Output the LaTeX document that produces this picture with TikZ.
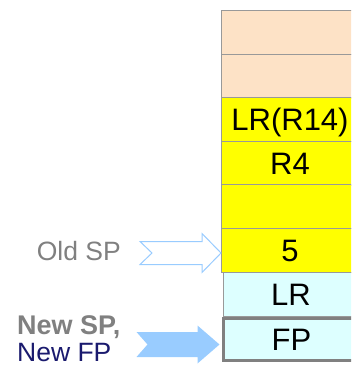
\documentclass[tikz,border=0pt]{standalone}
\usepackage{fontspec}
\setmainfont{Liberation Sans}
\usetikzlibrary{calc}
\definecolor{peach}{HTML}{FDE2C6}
\definecolor{ylw}{HTML}{FFFF00}
\definecolor{lcyan}{HTML}{DDFFFF}
\definecolor{cellgray}{HTML}{999999}
\definecolor{fpgray}{HTML}{808080}
\definecolor{arrblue}{HTML}{99CCFF}
\definecolor{txtgray}{HTML}{808080}
\definecolor{navy}{HTML}{1A1A6E}
\begin{document}
\begin{tikzpicture}[x=1pt,y=-1pt,
  cell/.style={draw=cellgray, line width=1pt, minimum width=137pt, minimum height=44pt,
    inner sep=0pt, text height=22pt, text depth=0pt, anchor=north west,
    font=\fontsize{31}{36}\selectfont},
  lbl/.style={inner sep=0pt, font=\fontsize{26.5}{30}\selectfont},
  oldarrow/.style={draw=arrblue, fill=white, line width=1pt, line join=miter},
  newarrow/.style={fill=arrblue, draw=none}]
\useasboundingbox (0,0) rectangle (351,366);
\clip (0,0) rectangle (351,366);
\node[cell, fill=peach] (c1) at (221,10) {};
\node[cell, fill=peach] (c2) at (221,54) {};
\node[cell, fill=ylw] (c3) at (221,97) {LR(R14)};
\node[cell, fill=ylw] (c4) at (221,141) {R4};
\node[cell, fill=ylw] (c5) at (221,184) {};
\node[cell, fill=ylw] (c6) at (221,228) {5};
\node[cell, fill=lcyan, minimum width=135pt] (c7) at (223,272) {LR};
\node[cell, fill=lcyan, draw=fpgray, line width=3pt, minimum height=42pt, minimum width=136pt] (c8) at (222,317) {FP};
% Old SP arrow
\coordinate (t1) at ($(c6.west)+(0,2.5)$);
\draw[oldarrow] (t1) -- ++(-19,-19.5) -- ++(0,8) -- ++(-62,0) -- ++(12,11.5) -- ++(-12,11.5) -- ++(62,0) -- ++(0,8) -- cycle;
% New SP arrow
\coordinate (t2) at ($(c8.west)+(-2.5,5)$);
\fill[newarrow] (t2) -- ++(-22,-19) -- ++(0,6.5) -- ++(-61,0) -- ++(11,12.5) -- ++(-11,12.5) -- ++(61,0) -- ++(0,6.5) -- cycle;
% labels
\node[lbl, anchor=east, text=txtgray, text height=19pt, text depth=0pt] (old) at (121,251) {Old SP};
\node[lbl, anchor=base west, text=txtgray, font=\fontsize{27}{30}\selectfont\bfseries] (newsp) at (17,334) {New SP,};
\node[lbl, anchor=base west, text=navy] (newfp) at (17,361) {New FP};
\end{tikzpicture}
\end{document}
